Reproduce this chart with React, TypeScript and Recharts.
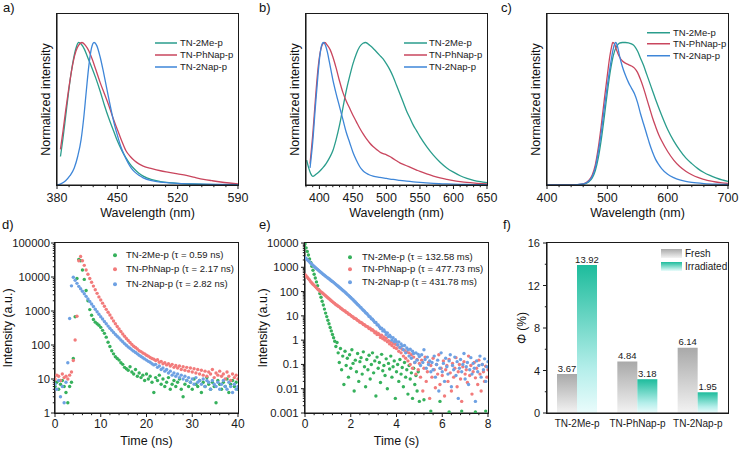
import React from 'react';
import {
  LineChart, Line, ScatterChart, Scatter, BarChart, Bar, LabelList,
  XAxis, YAxis, Legend,
} from 'recharts';

const FONT = '"Liberation Sans", Arial, Helvetica, sans-serif';
const INK = '#1a1a1a';
const LINE_ME = '#2a9d8c';
const LINE_PH = '#c9465e';
const LINE_NAP = '#3e86d8';
const DOT_ME = '#36b15c';
const DOT_PH = '#f27b7b';
const DOT_NAP = '#6ea1e3';

const names = ['TN-2Me-p', 'TN-PhNap-p', 'TN-2Nap-p'];

// a) spectra
const aMeX = [384, 387, 390, 393, 396, 399, 402, 405, 408, 412, 416, 420, 425, 430, 435, 440, 445, 450, 455, 460, 465, 470, 475, 480, 490, 500, 510, 520, 535, 550, 570, 590];
const aMeY = [0.2, 0.33, 0.48, 0.63, 0.77, 0.88, 0.96, 1.0, 0.99, 0.95, 0.89, 0.83, 0.75, 0.66, 0.56, 0.47, 0.39, 0.31, 0.245, 0.19, 0.145, 0.11, 0.083, 0.062, 0.037, 0.024, 0.016, 0.011, 0.007, 0.005, 0.003, 0.002];
const aPhX = [384, 387, 390, 393, 396, 399, 402, 405, 409, 413, 417, 421, 425, 430, 435, 440, 445, 450, 455, 460, 465, 470, 475, 480, 490, 500, 510, 520, 530, 540, 550, 560, 570, 580, 590];
const aPhY = [0.25, 0.38, 0.52, 0.65, 0.77, 0.87, 0.94, 0.98, 1.0, 0.98, 0.94, 0.88, 0.81, 0.72, 0.64, 0.56, 0.47, 0.39, 0.31, 0.24, 0.2, 0.17, 0.148, 0.133, 0.115, 0.1, 0.089, 0.078, 0.067, 0.053, 0.04, 0.03, 0.021, 0.014, 0.008];
const aNapX = [380, 385, 390, 395, 400, 404, 408, 411, 414, 417, 420, 423, 426, 430, 434, 438, 442, 446, 450, 454, 458, 462, 466, 470, 475, 480, 490, 500, 510, 520, 535, 550, 570, 590];
const aNapY = [0, 0.01, 0.03, 0.065, 0.12, 0.2, 0.32, 0.47, 0.66, 0.84, 0.96, 1.0, 0.98, 0.9, 0.79, 0.67, 0.55, 0.44, 0.35, 0.27, 0.21, 0.16, 0.12, 0.092, 0.068, 0.05, 0.03, 0.02, 0.015, 0.011, 0.008, 0.006, 0.004, 0.002];

// b) spectra
const bMeX = [381, 384, 387, 390, 395, 400, 405, 410, 415, 420, 425, 430, 435, 440, 445, 450, 455, 460, 465, 469, 475, 480, 485, 490, 495, 500, 505, 510, 515, 520, 525, 530, 535, 540, 545, 550, 560, 570, 580, 590, 600, 610, 620, 630, 640, 650];
const bMeY = [0.175, 0.12, 0.08, 0.06, 0.075, 0.095, 0.12, 0.15, 0.19, 0.24, 0.32, 0.42, 0.54, 0.66, 0.76, 0.85, 0.92, 0.97, 0.995, 1.0, 0.98, 0.96, 0.935, 0.91, 0.885, 0.85, 0.81, 0.76, 0.7, 0.64, 0.58, 0.52, 0.47, 0.42, 0.38, 0.34, 0.27, 0.21, 0.16, 0.12, 0.09, 0.065, 0.047, 0.033, 0.023, 0.016];
const bPhX = [386, 390, 394, 398, 402, 405, 408, 412, 416, 420, 425, 430, 435, 440, 445, 450, 455, 460, 465, 470, 475, 480, 485, 490, 495, 500, 505, 510, 515, 520, 525, 530, 535, 540, 545, 550, 560, 570, 580, 590, 600, 610, 620, 635, 650];
const bPhY = [0.15, 0.35, 0.6, 0.82, 0.95, 0.99, 1.0, 0.98, 0.95, 0.9, 0.82, 0.73, 0.65, 0.59, 0.54, 0.49, 0.445, 0.4, 0.36, 0.325, 0.295, 0.27, 0.25, 0.232, 0.22, 0.212, 0.2, 0.185, 0.17, 0.155, 0.145, 0.135, 0.125, 0.115, 0.105, 0.095, 0.078, 0.063, 0.05, 0.04, 0.031, 0.024, 0.018, 0.012, 0.007];
const bNapX = [386, 390, 394, 398, 401, 404, 406, 409, 412, 415, 420, 425, 430, 435, 440, 445, 450, 455, 460, 465, 470, 475, 480, 490, 500, 510, 520, 530, 540, 550, 570, 590, 610, 630, 650];
const bNapY = [0.12, 0.3, 0.55, 0.78, 0.92, 0.99, 1.0, 0.98, 0.93, 0.86, 0.74, 0.64, 0.55, 0.46, 0.37, 0.3, 0.23, 0.175, 0.13, 0.1, 0.082, 0.07, 0.062, 0.053, 0.046, 0.039, 0.033, 0.027, 0.022, 0.018, 0.012, 0.008, 0.005, 0.003, 0.002];

// c) spectra
const cMeX = [400, 430, 450, 460, 465, 470, 475, 480, 485, 490, 495, 500, 505, 510, 515, 520, 525, 530, 535, 540, 545, 550, 555, 560, 565, 570, 575, 580, 590, 600, 610, 620, 630, 640, 650, 660, 670, 680, 690, 700];
const cMeY = [0, 0.001, 0.003, 0.006, 0.012, 0.025, 0.05, 0.1, 0.19, 0.32, 0.48, 0.65, 0.8, 0.91, 0.97, 0.995, 1.0, 1.0, 0.998, 0.99, 0.975, 0.94, 0.89, 0.84, 0.78, 0.72, 0.66, 0.6, 0.49, 0.39, 0.31, 0.245, 0.19, 0.15, 0.115, 0.088, 0.067, 0.05, 0.036, 0.026];
const cPhX = [400, 430, 450, 460, 465, 470, 475, 480, 485, 490, 495, 500, 504, 507, 509, 512, 515, 520, 525, 530, 535, 540, 545, 550, 555, 560, 565, 570, 575, 580, 585, 590, 600, 610, 620, 630, 640, 650, 660, 670, 680, 690, 700];
const cPhY = [0, 0.001, 0.003, 0.008, 0.018, 0.035, 0.07, 0.14, 0.26, 0.42, 0.6, 0.77, 0.9, 0.97, 1.0, 0.99, 0.95, 0.9, 0.87, 0.855, 0.845, 0.835, 0.82, 0.79, 0.74, 0.68, 0.61, 0.54, 0.47, 0.41, 0.355, 0.31, 0.235, 0.175, 0.13, 0.097, 0.072, 0.053, 0.04, 0.029, 0.021, 0.015, 0.011];
const cNapX = [400, 430, 450, 460, 465, 470, 475, 480, 485, 490, 495, 500, 505, 509, 512, 514, 517, 520, 525, 530, 535, 540, 545, 550, 555, 560, 565, 570, 575, 580, 585, 590, 600, 610, 620, 630, 640, 660, 680, 700];
const cNapY = [0, 0.001, 0.003, 0.007, 0.015, 0.03, 0.06, 0.12, 0.23, 0.37, 0.54, 0.7, 0.84, 0.94, 0.99, 1.0, 0.97, 0.91, 0.83, 0.77, 0.72, 0.68, 0.64, 0.58, 0.5, 0.43, 0.36, 0.29, 0.23, 0.18, 0.145, 0.115, 0.075, 0.052, 0.036, 0.025, 0.018, 0.01, 0.006, 0.004];

// d) fluorescence decay, ns
const dTime = [0, 0.4, 0.8, 1.2, 1.6, 2, 2.4, 2.8, 3.2, 3.6, 4, 4.4, 4.8, 5.2, 5.6, 6, 6.4, 6.8, 7.2, 7.6, 8, 8.4, 8.8, 9.2, 9.6, 10, 10.4, 10.8, 11.2, 11.6, 12, 12.4, 12.8, 13.2, 13.6, 14, 14.4, 14.8, 15.2, 15.6, 16, 16.4, 16.8, 17.2, 17.6, 18, 18.4, 18.8, 19.2, 19.6, 20, 20.4, 20.8, 21.2, 21.6, 22, 22.4, 22.8, 23.2, 23.6, 24, 24.4, 24.8, 25.2, 25.6, 26, 26.4, 26.8, 27.2, 27.6, 28, 28.4, 28.8, 29.2, 29.6, 30, 30.4, 30.8, 31.2, 31.6, 32, 32.4, 32.8, 33.2, 33.6, 34, 34.4, 34.8, 35.2, 35.6, 36, 36.4, 36.8, 37.2, 37.6, 38, 38.4, 38.8, 39.2, 39.6, 40];
const dMe = [
  6, 8, 5, 7, 9, 6, 4, 2, 6, 8,
  40, 680, 9000, 33000, 30000, 16000, 8500, 4000, 2000, 1100,
  750, 560, 470, 420, 380, 330, 270, 220, 170, 120,
  90, 68, 55, 45, 40, 36, 30, 27, 22, 20,
  18, 23, 16, 14, 19, 12, 15, 11, 13, 9,
  14, 10, 12, 8, 4, 11, 9, 13, 7, 10,
  6, 8, 11, 5, 7, 9, 6, 8, 10, 5,
  3, 7, 9, 6, 8, 5, 10, 7, 6, 9,
  4, 8, 6, 11, 7, 5, 8, 6, 2, 9,
  7, 5, 8, 6, 10, 4, 7, 9, 6, 8,
  5,
];
const dPh = [
  10, 13, 12, 9, 14, 11, 12, 10, 13, 16,
  35, 140, 700, 30000, 40000, 30000, 22000, 16000, 12000, 9000,
  7000, 5400, 4200, 3300, 2600, 2100, 1700, 1380, 1120, 920,
  760, 620, 510, 420, 350, 295, 250, 210, 180, 155,
  135, 118, 104, 92, 84, 76, 68, 64, 58, 55,
  50, 47, 43, 40, 38, 35, 37, 31, 33, 28,
  30, 26, 28, 24, 27, 22, 25, 21, 24, 19,
  23, 18, 22, 17, 21, 16, 20, 15, 19, 14,
  18, 13, 17, 12, 16, 14, 19, 11, 15, 13,
  17, 12, 14, 10, 16, 12, 9, 14, 11, 13,
  10,
];
const dNap = [
  7, 5, 9, 3, 6, 2, 8, 30, 600, 5500,
  9800, 8000, 6500, 5300, 4500, 3800, 3200, 2700, 2250, 1900,
  1600, 1350, 1130, 950, 800, 680, 580, 490, 420, 360,
  310, 270, 235, 205, 180, 160, 140, 125, 110, 98,
  88, 80, 72, 66, 60, 55, 50, 46, 42, 39,
  36, 33, 31, 28, 26, 27, 22, 24, 19, 21,
  17, 19, 15, 17, 13, 15, 12, 14, 11, 13,
  10, 12, 9, 11, 8, 10, 7, 11, 8, 9,
  7, 10, 6, 9, 8, 5, 9, 7, 6, 8,
  5, 7, 9, 6, 5, 8, 6, 4, 7, 5,
  6,
];

// e) afterglow decay, s
const eTime = [
  0, 0.05, 0.1, 0.15, 0.2, 0.25, 0.3, 0.35, 0.4, 0.45, 0.5, 0.55, 0.6, 0.65, 0.7, 0.75, 0.8, 0.85, 0.9, 0.95,
  1, 1.05, 1.1, 1.15, 1.2, 1.25, 1.3, 1.35, 1.4, 1.45, 1.5, 1.55, 1.6, 1.65, 1.7, 1.75, 1.8, 1.85, 1.9, 1.95,
  2, 2.05, 2.1, 2.15, 2.2, 2.25, 2.3, 2.35, 2.4, 2.45, 2.5, 2.55, 2.6, 2.65, 2.7, 2.75, 2.8, 2.85, 2.9, 2.95,
  3, 3.05, 3.1, 3.15, 3.2, 3.25, 3.3, 3.35, 3.4, 3.45, 3.5, 3.55, 3.6, 3.65, 3.7, 3.75, 3.8, 3.85, 3.9, 3.95,
  4, 4.05, 4.1, 4.15, 4.2, 4.25, 4.3, 4.35, 4.4, 4.45, 4.5, 4.55, 4.6, 4.65, 4.7, 4.75, 4.8, 4.85, 4.9, 4.95,
  5, 5.05, 5.1, 5.15, 5.2, 5.25, 5.3, 5.35, 5.4, 5.45, 5.5, 5.55, 5.6, 5.65, 5.7, 5.75, 5.8, 5.85, 5.9, 5.95,
  6, 6.05, 6.1, 6.15, 6.2, 6.25, 6.3, 6.35, 6.4, 6.45, 6.5, 6.55, 6.6, 6.65, 6.7, 6.75, 6.8, 6.85, 6.9, 6.95,
  7, 7.05, 7.1, 7.15, 7.2, 7.25, 7.3, 7.35, 7.4, 7.45, 7.5, 7.55, 7.6, 7.65, 7.7, 7.75, 7.8, 7.85, 7.9, 7.95,
  8,
];
const eMe: (number | null)[] = [
  9000, 6300, 4500, 3200, 2200, 1600, 1100, 760, 520, 360,
  250, 175, 120, 83, 58, 40, 28, 19, 13, 9.3,
  6.6, 4.7, 3.3, 2.4, 1.7, 1.25, 0.9, 0.55, 0.8, 0.3,
  0.12, 0.45, 0.06, 0.22, 0.015, 0.35, 0.09, 0.18, 0.03, 0.25,
  0.07, 0.4, 0.11, 0.008, 0.15, 0.05, 0.28, 0.02, 0.13, 0.19,
  0.04, 0.33, 0.08, 0.012, 0.16, 0.06, 0.24, 0.025, 0.1, 0.3,
  0.045, 0.14, 0.005, 0.2, 0.07, 0.12, 0.018, 0.26, 0.055, 0.09,
  0.035, 0.17, 0.01, 0.11, 0.065, 0.22, 0.03, 0.08, 0.14, 0.004,
  0.05, 0.1, 0.02, 0.16, 0.04, 0.075, 0.012, 0.12, 0.03, 0.06,
  0.006, 0.09, 0.025, 0.045, 0.004, 0.07, 0.015, 0.035, 0.008, 0.05,
  0.003,
  null, null, null, 0.0035, null, null, null, null, null, 0.0012,
  null, null, null, null, null, null, null, 0.003, null, null,
  null, null, null, null, null, 0.0011, null, null, null, null,
  null, null, null, null, null, null, 0.0012, null, null, null,
  null, null, null, null, null, null, null, null, 0.0011, null,
  null, null, null, null, null, null, null, 0.0012, null, null,
];
const ePh = [
  500, 440, 390, 340, 300, 255, 225, 200, 180, 160,
  142, 128, 117, 106, 97, 89, 81, 74, 67, 61,
  56, 51, 46, 42, 38.5, 35, 32.5, 29, 27.5, 25,
  23.5, 21, 19.5, 18, 16.5, 15.8, 14, 13.5, 12, 11.5,
  10.5, 9.5, 9, 8, 7.8, 7.2, 6.5, 6.2, 5.5, 5.3,
  5, 4.4, 4.3, 3.8, 3.7, 3.5, 3.0, 3.1, 2.6, 2.7,
  2.4, 2.0, 2.2, 1.7, 1.9, 1.66, 1.3, 1.6, 1.15, 1.35,
  1.0, 1.2, 0.85, 0.95, 0.7, 0.85, 0.6, 0.75, 0.5, 0.68,
  0.45, 0.62, 0.35, 0.5, 0.3, 0.42, 0.22, 0.38, 0.18, 0.32,
  0.14, 0.3, 0.1, 0.25, 0.07, 0.2, 0.12, 0.04, 0.16, 0.06,
  0.11,
  0.03, 0.15, 0.008, 0.07, 0.2, 0.02, 0.05, 0.12, 0.004, 0.09,
  0.03, 0.18, 0.06, 0.011, 0.1, 0.04, 0.25, 0.015, 0.07, 0.035,
  0.14, 0.005, 0.06, 0.09, 0.02, 0.16, 0.045, 0.008, 0.11, 0.03,
  0.07, 0.19, 0.012, 0.05, 0.1, 0.025, 0.003, 0.08, 0.13, 0.04,
  0.06, 0.018, 0.22, 0.035, 0.09, 0.006, 0.05, 0.12, 0.028, 0.07,
  0.015, 0.15, 0.04, 0.008, 0.1, 0.05, 0.02, 0.085, 0.03, 0.06,
];
const eNap = [
  2500, 2300, 2050, 1850, 1650, 1480, 1340, 1200, 1080, 980,
  890, 810, 740, 675, 615, 560, 510, 470, 430, 395,
  363, 335, 305, 280, 260, 240, 218, 198, 180, 165,
  151, 138, 125, 114, 104, 95, 86, 77, 70, 63,
  57, 51, 46, 41, 37, 33, 29.5, 27, 23.5, 21.5,
  19, 17, 15.5, 13.5, 12.5, 11, 9.5, 9, 7.6, 7.2,
  6.3, 5.4, 5.3, 4.3, 4.2, 3.6, 3.0, 3.1, 2.4, 2.6,
  2.2, 1.7, 2.0, 1.4, 1.6, 1.35, 1.0, 1.25, 0.85, 1.05,
  0.87, 0.65, 0.85, 0.5, 0.7, 0.58, 0.4, 0.6, 0.3, 0.48,
  0.4, 0.22, 0.42, 0.18, 0.35, 0.28, 0.12, 0.3, 0.15, 0.26,
  0.21, 0.09, 0.25, 0.12, 0.4, 0.16, 0.07, 0.2, 0.1, 0.14, 0.05,
  0.12, 0.06, 0.22, 0.03, 0.1, 0.15, 0.008, 0.07, 0.3, 0.05,
  0.11, 0.02, 0.18, 0.08, 0.04, 0.14, 0.25, 0.012, 0.09, 0.06,
  0.2, 0.035, 0.13, 0.004, 0.07, 0.16, 0.05, 0.1, 0.28, 0.025,
  0.08, 0.12, 0.015, 0.06, 0.19, 0.04, 0.11, 0.07, 0.003, 0.14,
  0.05, 0.09, 0.22, 0.03, 0.1, 0.06, 0.17, 0.02, 0.08, 0.13,
];

// f) quantum yield
const fCats = ['TN-2Me-p', 'TN-PhNap-p', 'TN-2Nap-p'];
const fFresh = [3.67, 4.84, 6.14];
const fIrr = [13.92, 3.18, 1.95];

// tick labels
const aMajor = [380, 450, 520, 590];
const bMajor = [400, 450, 500, 550, 600, 650];
const cMajor = [400, 500, 600, 700];
const dMajorX = [0, 10, 20, 30, 40];
const eMajorX = [0, 2, 4, 6, 8];
const dMajorY = [1, 10, 100, 1000, 10000, 100000];
const eMajorY = [0.001, 0.01, 0.1, 1, 10, 100, 1000, 10000];
const fMajorY = [0, 4, 8, 12, 16];

// panel boxes: chart position/size, top margin, y-axis width, right margin, x-axis height
type Geo = { left: number; top: number; w: number; h: number; mt: number; yw: number; mr: number; xh: number };
const G: Record<string, Geo> = {
  a: { left: 0, top: 0, w: 245, h: 222, mt: 14, yw: 57, mr: 7, xh: 37 },
  b: { left: 245, top: 0, w: 245, h: 222, mt: 14, yw: 61, mr: 3, xh: 37 },
  c: { left: 490, top: 0, w: 250, h: 222, mt: 14, yw: 57, mr: 12, xh: 37 },
  d: { left: 0, top: 222, w: 245, h: 228, mt: 21, yw: 55, mr: 7, xh: 37 },
  e: { left: 245, top: 222, w: 245, h: 228, mt: 21, yw: 60, mr: 2, xh: 37 },
  f: { left: 490, top: 222, w: 250, h: 228, mt: 21, yw: 57, mr: 12, xh: 37 },
};

type Pt = { x: number; y: number };
const zip = (xs: number[], ys: (number | null)[]): Pt[] =>
  xs.map((x, i) => ({ x, y: ys[i] as number })).filter((p) => p.y != null);

const lin = (lo: number, hi: number, step: number) => {
  const n = Math.round((hi - lo) / step);
  return Array.from({ length: n + 1 }, (_, i) => +(lo + i * step).toFixed(4));
};
const logTicks = (lo: number, hi: number) => {
  const out: number[] = [];
  for (let e = lo; e < hi; e++) for (let k = 1; k < 10; k++) out.push(+(k * 10 ** e).toPrecision(3));
  out.push(+(10 ** hi).toPrecision(3));
  return out;
};
const isMajor = (v: number, majors: number[]) =>
  majors.some((m) => Math.abs(m - v) <= Math.abs(m) * 1e-6 + 1e-9);

const box = { stroke: INK, strokeWidth: 1.1 };

function BottomTick(props: any) {
  const { x, y, payload, majors, size = 12.5, gap = 16.5 } = props;
  const major = isMajor(payload.value, majors);
  return (
    <g>
      <line x1={x} x2={x} y1={y} y2={y + (major ? 4 : 2.2)} stroke={INK} strokeWidth={1} />
      {major && (
        <text x={x} y={y + gap} textAnchor="middle" fontSize={size} fontFamily={FONT} fill={INK}>
          {payload.value}
        </text>
      )}
    </g>
  );
}

function LeftTick(props: any) {
  const { x, y, payload, majors, size = 11.3, gap = 5.5 } = props;
  const major = isMajor(payload.value, majors);
  return (
    <g>
      <line x1={x} x2={x - (major ? 4 : 2.2)} y1={y} y2={y} stroke={INK} strokeWidth={1} />
      {major && (
        <text x={x - gap} y={y} textAnchor="end" dominantBaseline="central" fontSize={size} fontFamily={FONT} fill={INK}>
          {payload.value}
        </text>
      )}
    </g>
  );
}

function CatTick(props: any) {
  const { x, y, payload } = props;
  return (
    <text x={x} y={y + 14} textAnchor="middle" fontSize={10} fontFamily={FONT} fill={INK}>
      {payload.value}
    </text>
  );
}

type KeyRow = { label: string; color: string; fade?: string };

function Key({ rows, rowH, kind, swatch, gap, size = 9.5 }: { rows: KeyRow[]; rowH: number; kind: 'line' | 'dot' | 'box'; swatch: number; gap: number; size?: number }) {
  return (
    <div style={{ fontFamily: FONT, fontSize: size, color: INK, lineHeight: `${rowH}px` }}>
      {rows.map((r, i) => (
        <div key={r.label} style={{ display: 'flex', alignItems: 'center', height: rowH, whiteSpace: 'nowrap' }}>
          <svg width={swatch} height={rowH} style={{ marginRight: gap, flex: 'none' }}>
            {kind === 'line' && <line x1={0} x2={swatch} y1={rowH / 2} y2={rowH / 2} stroke={r.color} strokeWidth={1.5} />}
            {kind === 'dot' && <circle cx={5} cy={rowH / 2} r={2} fill={r.color} />}
            {kind === 'box' && (
              <>
                <defs>
                  <linearGradient id={`key${i}`} x1="0" y1="0" x2="0" y2="1">
                    <stop offset="0%" stopColor={r.color} />
                    <stop offset="100%" stopColor={r.fade} />
                  </linearGradient>
                </defs>
                <rect x={0} y={rowH / 2 - 4.5} width={21} height={9} fill={`url(#key${i})`} />
              </>
            )}
          </svg>
          <span>{r.label}</span>
        </div>
      ))}
    </div>
  );
}

type Series = { name: string; color: string; pts: Pt[] };

// closed frame around the plot area, as a plain bordered box laid over the chart
function PlotFrame({ g }: { g: Geo }) {
  return (
    <div style={{
      position: 'absolute', left: g.yw - 0.6, top: g.mt - 0.6,
      width: g.w - g.yw - g.mr + 1.2, height: g.h - g.mt - g.xh + 1.2,
      border: `1.2px solid ${INK}`, boxSizing: 'border-box', pointerEvents: 'none',
    }} />
  );
}

function SpecPanel(p: {
  g: Geo; domain: [number, number]; majors: number[]; minor: number; series: Series[];
  keyLeft: number; keyTop: number; keyRowH: number; keySwatch: number; keyGap: number;
}) {
  const { g } = p;
  const ticks = lin(p.domain[0], p.domain[1], p.minor);
  return (
    <div style={{ position: 'absolute', left: g.left, top: g.top, width: g.w, height: g.h }}>
      <LineChart width={g.w} height={g.h} margin={{ top: g.mt, right: g.mr, bottom: 0, left: 0 }}>
        <XAxis type="number" dataKey="x" domain={p.domain} ticks={ticks} interval={0} allowDataOverflow height={g.xh}
          tickSize={0} tickMargin={0} tickLine={false} axisLine={box} tick={<BottomTick majors={p.majors} />} />
        <YAxis type="number" domain={[0, 1.2]} width={g.yw} tick={false} tickLine={false} axisLine={box} allowDataOverflow />
        {p.series.map((s) => (
          <Line key={s.name} data={s.pts} dataKey="y" name={s.name} type="monotone" stroke={s.color} strokeWidth={1.3}
            dot={false} activeDot={false} isAnimationActive={false} />
        ))}
        <Legend verticalAlign="middle" align="center" layout="horizontal"
          wrapperStyle={{ left: p.keyLeft, top: p.keyTop, width: 'auto' }}
          content={() => (
            <Key rows={p.series.map((s) => ({ label: s.name, color: s.color }))} rowH={p.keyRowH} kind="line" swatch={p.keySwatch} gap={p.keyGap} />
          )} />
      </LineChart>
      <PlotFrame g={g} />
    </div>
  );
}

function DecayPanel(p: {
  g: Geo; xDomain: [number, number]; xMajors: number[]; xMinor: number;
  yDomain: [number, number]; yExp: [number, number]; yMajors: number[]; yGap: number; series: Series[]; labels: string[];
  keyLeft: number; keyTop: number; keyRowH: number; keySwatch: number;
}) {
  const { g } = p;
  const xTicks = lin(p.xDomain[0], p.xDomain[1], p.xMinor);
  const yTicks = logTicks(p.yExp[0], p.yExp[1]);
  return (
    <div style={{ position: 'absolute', left: g.left, top: g.top, width: g.w, height: g.h }}>
      <ScatterChart width={g.w} height={g.h} margin={{ top: g.mt, right: g.mr, bottom: 0, left: 0 }}>
        <XAxis type="number" dataKey="x" domain={p.xDomain} ticks={xTicks} interval={0} allowDataOverflow height={g.xh}
          tickSize={0} tickMargin={0} tickLine={false} axisLine={box} tick={<BottomTick majors={p.xMajors} size={12} gap={15.3} />} />
        <YAxis type="number" dataKey="y" scale="log" domain={p.yDomain} ticks={yTicks} interval={0} allowDataOverflow width={g.yw}
          tickSize={0} tickMargin={0} tickLine={false} axisLine={box} tick={<LeftTick majors={p.yMajors} gap={p.yGap} />} />
        {p.series.map((s) => (
          <Scatter key={s.name} name={s.name} data={s.pts} fill={s.color} isAnimationActive={false}
            shape={(q: any) => <circle cx={q.cx} cy={q.cy} r={1.7} fill={s.color} />} />
        ))}
        <Legend verticalAlign="middle" align="center" layout="horizontal"
          wrapperStyle={{ left: p.keyLeft, top: p.keyTop, width: 'auto' }}
          content={() => (
            <Key rows={p.series.map((s, i) => ({ label: p.labels[i], color: s.color }))} rowH={p.keyRowH} kind="dot" swatch={p.keySwatch} gap={0} />
          )} />
      </ScatterChart>
      <PlotFrame g={g} />
    </div>
  );
}

function YieldPanel({ g }: { g: Geo }) {
  const data = fCats.map((name, i) => ({ name, fresh: fFresh[i], irr: fIrr[i] }));
  const yTicks = lin(0, 16, 2);
  return (
    <div style={{ position: 'absolute', left: g.left, top: g.top, width: g.w, height: g.h }}>
      <BarChart width={g.w} height={g.h} data={data} margin={{ top: g.mt, right: g.mr, bottom: 0, left: 0 }} barGap={0} barSize={20}>
        <defs>
          <linearGradient id="gFresh" x1="0" y1="0" x2="0" y2="1">
            <stop offset="0%" stopColor="#a9a9a9" />
            <stop offset="80%" stopColor="#e4e4e4" />
            <stop offset="100%" stopColor="#f3f3f3" />
          </linearGradient>
          <linearGradient id="gIrr" x1="0" y1="0" x2="0" y2="1">
            <stop offset="0%" stopColor="#1dbc9c" />
            <stop offset="70%" stopColor="#b4eeea" />
            <stop offset="100%" stopColor="#eafcfc" />
          </linearGradient>
        </defs>
        <XAxis dataKey="name" height={g.xh} interval={0} tickSize={0} tickMargin={0} tickLine={false} axisLine={box} tick={<CatTick />} />
        <YAxis type="number" domain={[0, 16]} ticks={yTicks} interval={0} width={g.yw} tickSize={0} tickMargin={0} tickLine={false}
          axisLine={box} tick={<LeftTick majors={fMajorY} gap={7} size={11} />} />
        <Bar dataKey="fresh" name="Fresh" fill="url(#gFresh)" isAnimationActive={false}>
          <LabelList dataKey="fresh" position="top" offset={2.5} fontSize={9.5} fontFamily={FONT} fill={INK}
            formatter={(v: any) => Number(v).toFixed(2)} />
        </Bar>
        <Bar dataKey="irr" name="Irradiated" fill="url(#gIrr)" isAnimationActive={false}>
          <LabelList dataKey="irr" position="top" offset={2.5} fontSize={9.5} fontFamily={FONT} fill={INK}
            formatter={(v: any) => Number(v).toFixed(2)} />
        </Bar>
        <Legend verticalAlign="middle" align="center" layout="horizontal"
          wrapperStyle={{ left: 171, top: 24.5, width: 'auto' }}
          content={() => (
            <Key rows={[{ label: 'Fresh', color: '#a9a9a9', fade: '#f3f3f3' }, { label: 'Irradiated', color: '#1dbc9c', fade: '#eafcfc' }]}
              rowH={13} kind="box" swatch={24} gap={0} size={10} />
          )} />
      </BarChart>
      <PlotFrame g={g} />
    </div>
  );
}

export default function App() {
  const spec = (xs: number[][], ys: number[][]): Series[] => [
    { name: names[0], color: LINE_ME, pts: zip(xs[0], ys[0]) },
    { name: names[1], color: LINE_PH, pts: zip(xs[1], ys[1]) },
    { name: names[2], color: LINE_NAP, pts: zip(xs[2], ys[2]) },
  ];
  const dSeries: Series[] = [
    { name: names[0], color: DOT_ME, pts: zip(dTime, dMe) },
    { name: names[1], color: DOT_PH, pts: zip(dTime, dPh) },
    { name: names[2], color: DOT_NAP, pts: zip(dTime, dNap) },
  ];
  const eSeries: Series[] = [
    { name: names[0], color: DOT_ME, pts: zip(eTime, eMe) },
    { name: names[1], color: DOT_PH, pts: zip(eTime, ePh) },
    { name: names[2], color: DOT_NAP, pts: zip(eTime, eNap) },
  ];

  const yTitle = (x: number, y: number, body: React.ReactNode, size = 12.5) => (
    <text transform={`translate(${x},${y}) rotate(-90)`} textAnchor="middle" dominantBaseline="central" fontSize={size}>{body}</text>
  );

  return (
    <div style={{ position: 'absolute', left: 0, top: 0, width: 740, height: 450, background: '#fff', fontFamily: FONT }}>
      <style>{'.recharts-surface { overflow: visible; }'}</style>
      <SpecPanel g={G.a} domain={[380, 590]} majors={aMajor} minor={14}
        series={spec([aMeX, aPhX, aNapX], [aMeY, aPhY, aNapY])} keyLeft={155} keyTop={37} keyRowH={12} keySwatch={22} keyGap={3} />
      <SpecPanel g={G.b} domain={[380, 650]} majors={bMajor} minor={10}
        series={spec([bMeX, bPhX, bNapX], [bMeY, bPhY, bNapY])} keyLeft={159} keyTop={37} keyRowH={12} keySwatch={23} keyGap={2} />
      <SpecPanel g={G.c} domain={[400, 700]} majors={cMajor} minor={20}
        series={spec([cMeX, cPhX, cNapX], [cMeY, cPhY, cNapY])} keyLeft={157} keyTop={26.5} keyRowH={11.5} keySwatch={23} keyGap={3} />

      <DecayPanel g={G.d} xDomain={[0, 40]} xMajors={dMajorX} xMinor={2}
        yDomain={[1, 100000]} yExp={[0, 5]} yMajors={dMajorY} yGap={5} series={dSeries}
        labels={['TN-2Me-p (τ = 0.59 ns)', 'TN-PhNap-p (τ = 2.17 ns)', 'TN-2Nap-p (τ = 2.82 ns)']}
        keyLeft={110} keyTop={25.75} keyRowH={14.5} keySwatch={16} />
      <DecayPanel g={G.e} xDomain={[0, 8]} xMajors={eMajorX} xMinor={0.4}
        yDomain={[0.001, 10000]} yExp={[-3, 4]} yMajors={eMajorY} yGap={6.5} series={eSeries}
        labels={['TN-2Me-p (τ = 132.58 ms)', 'TN-PhNap-p (τ = 477.73 ms)', 'TN-2Nap-p (τ = 431.78 ms)']}
        keyLeft={100} keyTop={28.75} keyRowH={12.5} keySwatch={17} />
      <YieldPanel g={G.f} />

      <svg width={740} height={450} style={{ position: 'absolute', left: 0, top: 0, pointerEvents: 'none' }} fontFamily={FONT} fill="#111">
        <text x={3} y={11.5} fontSize={13}>a)</text>
        <text x={259} y={11.5} fontSize={13}>b)</text>
        <text x={501} y={11.5} fontSize={13}>c)</text>
        <text x={2} y={228.5} fontSize={13}>d)</text>
        <text x={259} y={228.5} fontSize={13}>e)</text>
        <text x={503} y={228.5} fontSize={13}>f)</text>
        {yTitle(46.3, 99.5, 'Normalized intensity')}
        {yTitle(294.6, 99.5, 'Normalized intensity')}
        {yTitle(536.3, 99.5, 'Normalized intensity')}
        {yTitle(8, 328, 'Intensity (a.u.)')}
        {yTitle(263, 328, 'Intensity (a.u.)')}
        {yTitle(522, 328, <><tspan fontStyle="italic">Φ</tspan> (%)</>, 12)}
        <text x={147.5} y={217} textAnchor="middle" fontSize={12.5}>Wavelength (nm)</text>
        <text x={396.5} y={217} textAnchor="middle" fontSize={12.5}>Wavelength (nm)</text>
        <text x={637.5} y={217} textAnchor="middle" fontSize={12.5}>Wavelength (nm)</text>
        <text x={146.5} y={445} textAnchor="middle" fontSize={12.5}>Time (ns)</text>
        <text x={396.5} y={445} textAnchor="middle" fontSize={12.5}>Time (s)</text>
      </svg>
    </div>
  );
}
